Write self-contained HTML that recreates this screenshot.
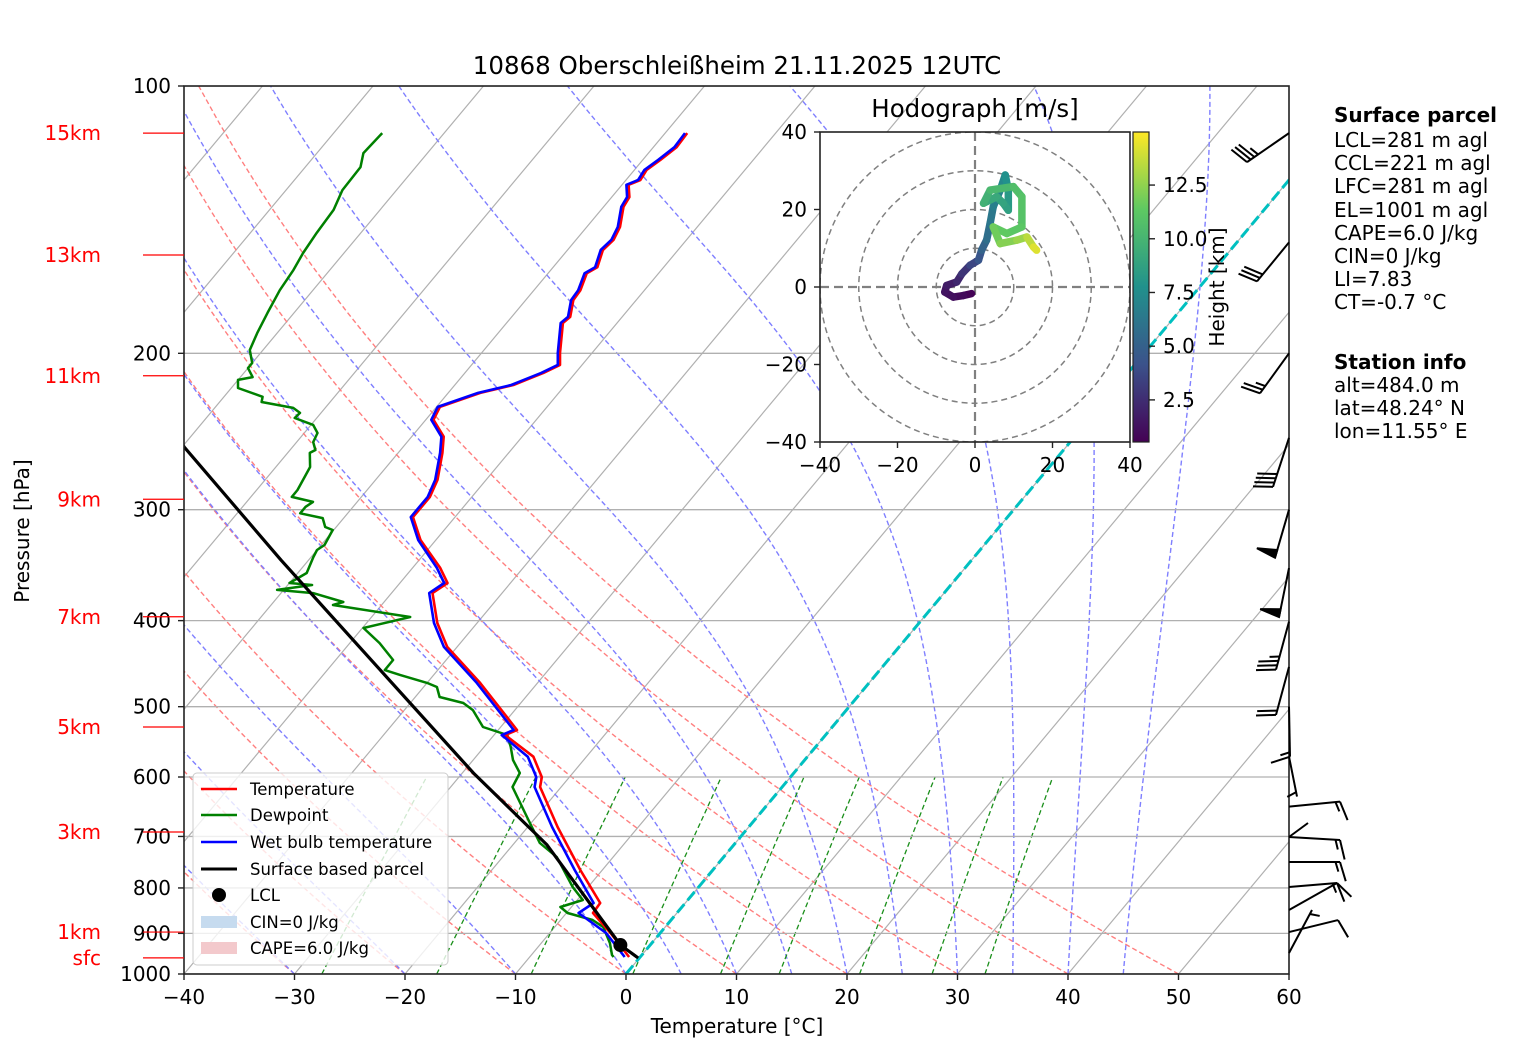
<!DOCTYPE html>
<html><head><meta charset="utf-8">
<style>
html,body{margin:0;padding:0;background:#fff;}
svg{display:block;font-family:"DejaVu Sans","Liberation Sans",sans-serif;}
</style></head>
<body>
<svg id="chart" width="1517" height="1060" viewBox="0 0 1517 1060" xmlns="http://www.w3.org/2000/svg">
<defs>
<clipPath id="plotclip"><rect x="184" y="86" width="1105" height="888"/></clipPath>
<clipPath id="hodoclip"><rect x="820" y="132" width="310" height="310"/></clipPath>
<linearGradient id="viridis" x1="0" y1="1" x2="0" y2="0">
<stop offset="0" stop-color="#440154"/><stop offset="0.25" stop-color="#3b528b"/><stop offset="0.5" stop-color="#21918c"/><stop offset="0.75" stop-color="#5ec962"/><stop offset="1" stop-color="#fde725"/>
</linearGradient>
</defs>
<rect width="1517" height="1060" fill="#fff"/>
<text x="737" y="74" text-anchor="middle" font-size="24.5">10868 Oberschleißheim 21.11.2025 12UTC</text>
<g id="plot" clip-path="url(#plotclip)"></g>
<g id="axes"></g>
<g id="barbs"></g>
<text transform="translate(29,531) rotate(-90)" text-anchor="middle" font-size="20">Pressure [hPa]</text>
<text x="737" y="1033" text-anchor="middle" font-size="20">Temperature [°C]</text>
<g>
<rect x="193" y="773" width="255" height="192" rx="4" fill="#fff" fill-opacity="0.8" stroke="#ccc"/>
<line x1="201" y1="789" x2="237" y2="789" stroke="red" stroke-width="2.5"/><text x="250" y="795" font-size="16.5">Temperature</text>
<line x1="201" y1="815" x2="237" y2="815" stroke="green" stroke-width="2.5"/><text x="250" y="821" font-size="16.5">Dewpoint</text>
<line x1="201" y1="842" x2="237" y2="842" stroke="blue" stroke-width="2.5"/><text x="250" y="848" font-size="16.5">Wet bulb temperature</text>
<line x1="201" y1="869" x2="237" y2="869" stroke="#000" stroke-width="3"/><text x="250" y="875" font-size="16.5">Surface based parcel</text>
<circle cx="219" cy="895" r="7" fill="#000"/><text x="250" y="901" font-size="16.5">LCL</text>
<rect x="201" y="916" width="36" height="12" fill="#c6dbef"/><text x="250" y="928" font-size="16.5">CIN=0 J/kg</text>
<rect x="201" y="942" width="36" height="12" fill="#f3c9cc"/><text x="250" y="954" font-size="16.5">CAPE=6.0 J/kg</text>
</g>
<g font-size="20">
<text x="1334" y="122" font-weight="bold">Surface parcel</text>
<text x="1334" y="147">LCL=281 m agl</text>
<text x="1334" y="170">CCL=221 m agl</text>
<text x="1334" y="193">LFC=281 m agl</text>
<text x="1334" y="217">EL=1001 m agl</text>
<text x="1334" y="240">CAPE=6.0 J/kg</text>
<text x="1334" y="263">CIN=0 J/kg</text>
<text x="1334" y="286">LI=7.83</text>
<text x="1334" y="309">CT=-0.7 °C</text>
<text x="1334" y="369" font-weight="bold">Station info</text>
<text x="1334" y="392">alt=484.0 m</text>
<text x="1334" y="415">lat=48.24° N</text>
<text x="1334" y="438">lon=11.55° E</text>
</g>
<g id="hodo"></g>
</svg>
<script>
// ---- sounding data ----
const tempP = [113,117.2,121.1,124.3,127.6,129.2,133.4,136.8,144.1,149.0,153.0,160.0,162.5,169.8,174.2,182.0,184.9,199.8,206.1,210.4,217.1,221.6,229.8,237.6,248.3,258.9,277.7,290.2,305.8,324.5,348.9,362.8,372.4,402.5,428.2,470.1,531.2,538.1,569.3,600.1,615.8,683.0,763.6,831.8,853.6,899.2,957];
const tempT = [-58.0,-57.9,-58.4,-58.9,-58.7,-59.4,-58.4,-58.2,-57.0,-56.6,-56.8,-56.0,-56.5,-55.8,-55.7,-54.7,-54.9,-52.9,-52.0,-52.9,-54.7,-57.1,-59.7,-59.3,-57.1,-56.0,-54.4,-53.8,-53.8,-51.4,-47.5,-45.7,-46.3,-43.6,-40.9,-35.2,-28.3,-29.0,-24.8,-22.5,-21.9,-17.3,-12.0,-7.7,-7.6,-4.5,-1.0];
const wetbulbT = [-58.2,-58.1,-58.6,-59.1,-58.9,-59.6,-58.6,-58.4,-57.2,-56.8,-57.0,-56.2,-56.7,-56.0,-55.9,-54.9,-55.1,-53.1,-52.2,-53.1,-54.9,-57.3,-59.9,-59.5,-57.3,-56.2,-54.6,-54.0,-54.0,-51.6,-47.8,-46.0,-46.6,-43.9,-41.2,-35.5,-28.6,-29.3,-25.3,-23.0,-22.4,-17.8,-12.5,-8.3,-8.9,-4.9,-1.4];
const dewP = [113,119.0,123.4,131.0,137.9,146.3,154.2,161.1,169.8,180.1,189.8,198.3,205.1,207.8,212.7,214.3,218.8,223.9,226.9,230.4,233.4,236.5,240.8,245.9,251.8,257.0,258.9,268.6,285.1,290.2,294.0,297.8,302.8,306.6,313.8,316.2,328.8,333.1,339.2,353.5,362.8,364.7,369.4,372.4,381.1,384.1,396.3,407.7,424.0,443.0,454.7,460.7,470.1,475.1,487.6,495.3,504.4,527.1,538.1,554.8,574.1,593.8,615.8,676.1,711.9,738.5,798.1,825.4,840.5,853.6,869.4,885.4,922.7,952,957];
const dewT = [-85.6,-85.8,-85.0,-84.9,-84.2,-84.0,-83.7,-83.3,-83.0,-82.4,-81.8,-81.2,-80.0,-80.0,-78.9,-80.0,-79.4,-76.5,-76.2,-72.9,-71.9,-72.0,-69.8,-68.8,-68.5,-67.7,-68.0,-66.9,-66.3,-66.3,-64.0,-64.3,-64.3,-61.9,-61.0,-60.1,-59.7,-60.0,-59.8,-59.2,-60.0,-57.8,-60.6,-57.1,-53.7,-54.4,-46.5,-49.9,-47.3,-44.8,-44.8,-43.0,-40.0,-38.8,-37.8,-35.2,-33.8,-31.6,-28.8,-27.6,-26.4,-24.8,-24.4,-20.1,-17.7,-15.1,-11.4,-9.5,-11.0,-9.9,-7.1,-5.6,-3.8,-2.7,-2.4];
const parcelP = [959.4,927.6,715.6,593.8,454.7,341.9,255.0,200.0];
const parcelT = [-0.1,-2.7,-16.9,-29.0,-45.2,-62.5,-79.8,-92.0];
const lclP = 927.6, lclT = -2.7;
// hodograph
const hodoU = [-0.9,-3,-5.6,-7.8,-7.3,-4.7,-3.4,-1.3,0.9,1.7,3,3.9,4.7,6.5,7.8,8.6,8.6,7.3,5.6,2.2,3.9,9.9,12.1,12.1,8.2,4.7,6.5,10.8,13.4,15.1,15.9];
const hodoV = [-1.7,-2.2,-2.6,-1.3,0.4,1.3,3.4,5.6,6.9,9.5,12.1,16.4,20.7,25,28.9,25,19.8,21.6,23.3,21.6,25,25.9,23.3,15.5,13.8,15.5,11.2,12.1,12.9,10.3,9.5];
const hodoH = [0.5,0.8,1.1,1.3,1.5,2,2.5,3.2,4,4.8,5.5,6,6.5,7,7.5,8,8.5,8.8,9,9.5,10,10.5,10.8,11,11.3,11.5,12,12.5,13,14,14.5];
// wind barbs
const windP = [113,150,200,249,300,349,401,451,500,569,648,701,748,798,847,897,947,701];
const windDx = [-42,-32,-29,-16,-14,-10,-13,-13,1,8,51,51,51,48,48,49,23,19];
const windDy = [29,39,40,49,48,49,48,48,50,40,-5,3,0,-4,-27,-12,-43,-14];
const windFull = [3,3,2,4,0,0,3,2,1,0,1,1,1,1,1,1,0,0];
const windHalf = [1,0,1,0,0,0,1,0,1,1,1,1,1,1,0,0,1,0];
const windFlag = [0,0,0,0,1,1,0,0,0,0,0,0,0,0,0,0,0,0];
// axis ticks
const pTicks = [100,200,300,400,500,600,700,800,900,1000];
const tTicks = [-40,-30,-20,-10,0,10,20,30,40,50,60];
const kmLabels = ['sfc','1km','3km','5km','7km','9km','11km','13km','15km'];
const kmP = [959,897,692,527,396,292,212,155,113];

const NS='http://www.w3.org/2000/svg';
function yP(p){return 974-888*Math.log10(1000/p);}
function xT(T,p){return 184+(T+40)*11.05+0.835*(974-yP(p));}
function mk(tag,attrs,parent){const e=document.createElementNS(NS,tag);for(const k in attrs)e.setAttribute(k,attrs[k]);parent.appendChild(e);return e;}
const plot=document.getElementById('plot'), axes=document.getElementById('axes');

function pathFrom(ps,ts){return ps.map((p,i)=>(i?'L':'M')+xT(ts[i],p).toFixed(1)+','+yP(p).toFixed(1)).join('');}

// isotherms
for(let t=-140;t<=60;t+=10){
  const l=mk('line',{x1:xT(t,1000),y1:yP(1000),x2:xT(t,100),y2:yP(100),stroke:'#b0b0b0','stroke-width':1.2},plot);
  
  
}
// dry adiabats
for(let t0=-30;t0<=50;t0+=10){
  const th=t0+273.15;const ps=[],ts=[];
  for(let p=1000;p>=100;p-=10){ps.push(p);ts.push(th*Math.pow(p/1000,0.2857)-273.15);}
  const e=mk('path',{d:pathFrom(ps,ts),fill:'none',stroke:'#ff7f7f','stroke-width':1.4,'stroke-dasharray':'5,3'},plot);
  
  
}
// moist adiabats
function dTdp(p,T){const tc=T-273.15;const es=6.112*Math.exp(17.67*tc/(tc+243.5));const rs=0.622*es/(p-es);
  return (287.04*T+2.501e6*rs)/(1005.7+2.501e6*2.501e6*rs*0.622/(287.04*T*T))/p;}
const moistT0=[-50,-40,-30,-20,-10,0,5,10,15,20,25,30,35,40,45];
moistT0.forEach(t0=>{
  let T=t0+273.15;const ps=[1000],ts=[t0];
  for(let p=1000;p>100;p-=2){const h=-2;const k1=dTdp(p,T);const k2=dTdp(p+h/2,T+h/2*k1);T+=h*k2;ps.push(p+h);ts.push(T-273.15);}
  const e=mk('path',{d:pathFrom(ps,ts),fill:'none',stroke:'#7f7fff','stroke-width':1.4,'stroke-dasharray':'5,3'},plot);
  
  
});
// mixing ratio lines
[0.0004,0.001,0.002,0.004,0.007,0.01,0.016,0.024,0.032].forEach(w=>{
  const ps=[],ts=[];
  for(let p=1000;p>=600;p-=20){const e=p*w/(0.622+w);const l=Math.log(e/6.112);ps.push(p);ts.push(243.5*l/(17.67-l));}
  const e=mk('path',{d:pathFrom(ps,ts),fill:'none',stroke:'#1a8f1a','stroke-width':1.3,'stroke-dasharray':'5,3'},plot);
  
  
});
// pressure gridlines
pTicks.forEach(p=>{
  const l=mk('line',{x1:184,x2:1289,y1:yP(p),y2:yP(p),stroke:'#b0b0b0','stroke-width':1.3},plot);
  
  
});
// 0 C isotherm
{const l=mk('line',{x1:xT(0,1000),y1:yP(1000),x2:xT(0,100),y2:yP(100),stroke:'#00c0c0','stroke-width':3,'stroke-dasharray':'11,5'},plot);

}
// profiles
{let e=mk('path',{d:pathFrom(dewP,dewT),fill:'none',stroke:'green','stroke-width':2.5,'stroke-linejoin':'round'},plot);


e=mk('path',{d:pathFrom(tempP,tempT),fill:'none',stroke:'red','stroke-width':2.6,'stroke-linejoin':'round'},plot);


e=mk('path',{d:pathFrom(tempP,wetbulbT),fill:'none',stroke:'blue','stroke-width':2.6,'stroke-linejoin':'round'},plot);


e=mk('path',{d:pathFrom(parcelP,parcelT),fill:'none',stroke:'#000','stroke-width':3.2,'stroke-linejoin':'round'},plot);


e=mk('circle',{cx:xT(lclT,lclP),cy:yP(lclP),r:7,fill:'#000'},plot);

}

// axes frame & ticks
{const r=mk('rect',{x:184,y:86,width:1105,height:888,fill:'none',stroke:'#222','stroke-width':1.6},axes);

}
pTicks.forEach(p=>{
  const y=yP(p);
  mk('line',{x1:178,x2:184,y1:y,y2:y,stroke:'#222','stroke-width':1.4},axes);
  const t=mk('text',{x:171,y:y+7,'text-anchor':'end','font-size':20},axes);t.textContent=p;
  
  
});
tTicks.forEach(v=>{
  const x=184+(v+40)*11.05;
  mk('line',{x1:x,x2:x,y1:974,y2:980,stroke:'#222','stroke-width':1.4},axes);
  const t=mk('text',{x:x,y:1004,'text-anchor':'middle','font-size':20},axes);t.textContent=(v<0?'\u2212'+(-v):v);
  
  
});
kmLabels.forEach((s,i)=>{
  const y=yP(kmP[i]);
  mk('line',{x1:143,x2:184,y1:y,y2:y,stroke:'red','stroke-width':1.2},axes);
  const t=mk('text',{x:101,y:y+7,'text-anchor':'end','font-size':20,fill:'red'},axes);t.textContent=s;
  
  
});

// wind barbs
const barbs=document.getElementById('barbs');
windP.forEach((p,i)=>{
  const bx=1289, by=yP(p), dx=windDx[i], dy=windDy[i];
  const L=Math.hypot(dx,dy), sx=dx/L, sy=dy/L;
  const px=-sy, py=sx;
  const fx=px+0.3*sx, fy=py+0.3*sy, fl=Math.hypot(fx,fy);
  const ux=fx/fl, uy=fy/fl;
  const g=mk('g',{stroke:'#000','stroke-width':2,fill:'#000'},barbs);
  
  
  const tx=bx+dx, ty=by+dy;
  mk('line',{x1:bx,y1:by,x2:tx,y2:ty},g);
  let d=0;
  for(let k=0;k<windFlag[i];k++){
    const ax=tx-sx*d, ay=ty-sy*d, cx=tx-sx*(d+8), cy=ty-sy*(d+8);
    mk('polygon',{points:`${ax},${ay} ${cx},${cy} ${ax-sx*4+px*20},${ay-sy*4+py*20}`},g);d+=10;
  }
  for(let k=0;k<windFull[i];k++){
    const ax=tx-sx*d, ay=ty-sy*d;
    mk('line',{x1:ax,y1:ay,x2:ax+ux*20,y2:ay+uy*20},g);d+=4.5;
  }
  for(let k=0;k<windHalf[i];k++){
    if(d===0)d=4.5;
    const ax=tx-sx*d, ay=ty-sy*d;
    mk('line',{x1:ax,y1:ay,x2:ax+ux*10,y2:ay+uy*10},g);d+=4.5;
  }
});

// hodograph
const hodo=document.getElementById('hodo');
const hcx=975,hcy=287,hs=3.875;
function hx(u){return hcx+u*hs;} function hy(v){return hcy-v*hs;}
mk('rect',{x:820,y:132,width:310,height:310,fill:'#fff'},hodo);
const hg=mk('g',{'clip-path':'url(#hodoclip)'},hodo);
[10,20,30,40].forEach(r=>{
  const c=mk('circle',{cx:hcx,cy:hcy,r:r*hs,fill:'none',stroke:'#808080','stroke-width':1.5,'stroke-dasharray':'6,4'},hg);
  
  
});
mk('line',{x1:820,x2:1130,y1:hcy,y2:hcy,stroke:'#808080','stroke-width':2.2,'stroke-dasharray':'9,5'},hg);
mk('line',{x1:hcx,x2:hcx,y1:132,y2:442,stroke:'#808080','stroke-width':2.2,'stroke-dasharray':'9,5'},hg);
const vir=[[0,[68,1,84]],[0.25,[59,82,139]],[0.5,[33,145,140]],[0.75,[94,201,98]],[1,[253,231,37]]];
function viridis(h){let t=(h-0.54)/(14.97-0.54);t=Math.max(0,Math.min(1,t));
  for(let i=1;i<vir.length;i++){if(t<=vir[i][0]){const a=vir[i-1],b=vir[i];const f=(t-a[0])/(b[0]-a[0]);
    return 'rgb('+a[1].map((c,j)=>Math.round(c+(b[1][j]-c)*f)).join(',')+')';}}return 'rgb(253,231,37)';}
for(let i=1;i<hodoU.length;i++){
  const s=mk('line',{x1:hx(hodoU[i-1]),y1:hy(hodoV[i-1]),x2:hx(hodoU[i]),y2:hy(hodoV[i]),stroke:viridis((hodoH[i]+hodoH[i-1])/2),'stroke-width':7.5,'stroke-linecap':'round'},hg);
  
  
}
mk('rect',{x:820,y:132,width:310,height:310,fill:'none',stroke:'#222','stroke-width':1.6},hodo);
const hTicks=[-40,-20,0,20,40];
hTicks.forEach(v=>{
  mk('line',{x1:814,x2:820,y1:hy(v),y2:hy(v),stroke:'#222','stroke-width':1.4},hodo);
  let t=mk('text',{x:807,y:hy(v)+7,'text-anchor':'end','font-size':20},hodo);t.textContent=(v<0?'\u2212'+(-v):v);
  
  
  mk('line',{x1:hx(v),x2:hx(v),y1:442,y2:448,stroke:'#222','stroke-width':1.4},hodo);
  t=mk('text',{x:hx(v),y:472,'text-anchor':'middle','font-size':20},hodo);t.textContent=(v<0?'\u2212'+(-v):v);
  
  
});
{const t=mk('text',{x:975,y:117,'text-anchor':'middle','font-size':24.5},hodo);t.textContent='Hodograph [m/s]';

}
// colorbar
{const cb=mk('rect',{x:1133,y:132,width:16,height:310,fill:'url(#viridis)',stroke:'#222','stroke-width':1.2},hodo);

}
const cbTicks=[2.5,5.0,7.5,10.0,12.5];
cbTicks.forEach(v=>{
  const y=442-(v-0.54)/(14.97-0.54)*310;
  mk('line',{x1:1149,x2:1155,y1:y,y2:y,stroke:'#222','stroke-width':1.4},hodo);
  const t=mk('text',{x:1163,y:y+7,'font-size':20},hodo);t.textContent=v.toFixed(1);
  
  
});
{const t=mk('text',{transform:'translate(1224,287) rotate(-90)','text-anchor':'middle','font-size':20},hodo);t.textContent='Height [km]';

}
</script>
</body></html>
